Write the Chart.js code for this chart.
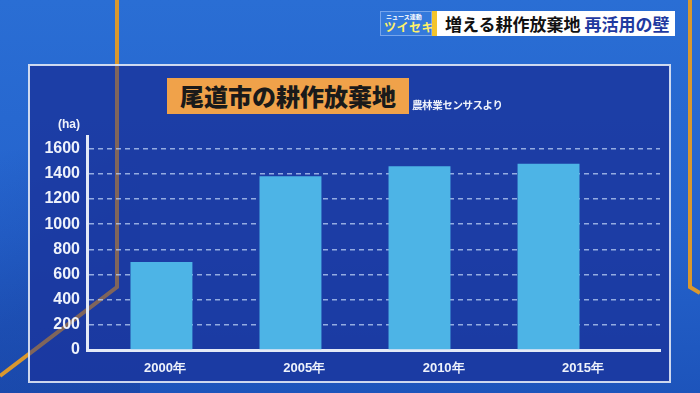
<!DOCTYPE html>
<html lang="ja">
<head>
<meta charset="utf-8">
<script src="https://cdn.jsdelivr.net/npm/chart.js@4"></script>
<style>
  html, body { margin: 0; padding: 0; background: #1f5cc4; }
  #wrap { position: relative; width: 700px; height: 393px; overflow: hidden; }
  #chart { position: absolute; left: 0; top: 0; }
  .jp { font-family: "Noto Sans CJK JP", sans-serif; font-weight: 700; position: absolute; white-space: nowrap; }
  #badge { left: 380px; top: 11px; width: 52px; height: 25px; background: #3479dc; box-sizing: border-box; border: 1px solid rgba(200,220,255,0.45); }
  #badge .s { position: absolute; left: 5px; top: 1px; font-size: 6px; color: #fff; line-height: 7px; }
  #badge .b { position: absolute; left: 3px; top: 8px; font-size: 12px; color: #fff06a; line-height: 14px; letter-spacing: 0.5px; }
  #headline { left: 432px; top: 11px; width: 243px; height: 25px; background: #fff; border-left: 5px solid #f3c42b; box-sizing: border-box;
              font-size: 17px; line-height: 25px; padding-left: 8px; color: #111; }
  #headline span { color: #1f3aa0; margin-left: 4px; }
  #title { left: 167px; top: 78px; width: 242px; height: 36px; background: #f0a24a; color: #1a1a1a; font-size: 24px;
           line-height: 36px; text-align: center; font-weight: 900; }
  #source { left: 412px; top: 97px; font-size: 10.5px; color: #eef2fb; letter-spacing: -0.4px; }
  #unit { left: 58px; top: 117px; font-family: "Liberation Sans", Arial, sans-serif; font-weight: 700; font-size: 12px; color: #eef2fb; position: absolute; }
</style>
</head>
<body>
<div id="wrap">
  <canvas id="chart" width="700" height="393"></canvas>
  <div id="badge" class="jp"><div class="s">ニュース連動</div><div class="b">ツイセキ</div></div>
  <div id="headline" class="jp">増える耕作放棄地<span>再活用の壁</span></div>
  <div id="title" class="jp">尾道市の耕作放棄地</div>
  <div id="source" class="jp">農林業センサスより</div>
  <div id="unit">(ha)</div>
</div>
<script>
// 尾道市の耕作放棄地 (ha)
const years = ['2000年', '2005年', '2010年', '2015年'];
const areas = [700, 1380, 1460, 1480];
const yTicks = [0, 200, 400, 600, 800, 1000, 1200, 1400, 1600];

const labelFont = { family: '"Liberation Sans", Arial, sans-serif', weight: 'bold' };

function orangeLine(ctx) {
    ctx.beginPath();
    ctx.moveTo(117, 0);
    ctx.lineTo(117, 287);
    ctx.lineTo(0, 376);
    ctx.stroke();
}

// Hintergrund, orangefarbene Linien und Tafel
const backdrop = {
    id: 'backdrop',
    beforeDraw(chart) {
        const ctx = chart.ctx;
        ctx.save();
        const g = ctx.createLinearGradient(0, 0, 0, 393);
        g.addColorStop(0, '#2a6ed4');
        g.addColorStop(0.6, '#2462cc');
        g.addColorStop(1, '#1d54bb');
        ctx.fillStyle = g;
        ctx.fillRect(0, 0, 700, 393);
        const side = ctx.createLinearGradient(0, 150, 120, 393);
        side.addColorStop(0, 'rgba(20,50,140,0)');
        side.addColorStop(0.6, 'rgba(20,50,140,0.3)');
        side.addColorStop(1, 'rgba(20,50,140,0.35)');
        ctx.fillStyle = side;
        ctx.fillRect(0, 150, 140, 243);

        ctx.strokeStyle = '#d9982e';
        ctx.lineWidth = 4;
        orangeLine(ctx);
        ctx.beginPath();
        ctx.moveTo(690, 0);
        ctx.lineTo(690, 287);
        ctx.lineTo(700, 293);
        ctx.stroke();

        ctx.fillStyle = 'rgba(27,55,158,0.86)';
        ctx.fillRect(29, 65, 641, 317);
        // Linie schimmert durch die Tafel
        ctx.save();
        ctx.beginPath();
        ctx.rect(29, 65, 641, 317);
        ctx.clip();
        ctx.strokeStyle = 'rgba(190,130,50,0.55)';
        ctx.lineWidth = 4;
        orangeLine(ctx);
        ctx.restore();

        ctx.strokeStyle = 'rgba(225,232,245,0.9)';
        ctx.lineWidth = 2;
        ctx.strokeRect(29, 65, 641, 317);
        ctx.restore();
    }
};

const ctx = document.getElementById('chart').getContext('2d');
new Chart(ctx, {
    type: 'bar',
    data: {
        datasets: [{
            data: areas.map((v, i) => ({ x: i, y: v })),
            backgroundColor: '#4db4e6',
            borderWidth: 0,
            categoryPercentage: 1,
            barPercentage: 0.48
        }]
    },
    options: {
        responsive: false,
        animation: false,
        devicePixelRatio: 1,
        layout: { padding: { top: 136, right: 40, left: 0, bottom: 0 } },
        plugins: { legend: { display: false }, tooltip: { enabled: false } },
        scales: {
            x: {
                type: 'linear',
                display: false,
                offset: false,
                min: -0.577,
                max: 3.864,
                afterBuildTicks: s => { s.ticks = years.map((_, i) => ({ value: i })); }
            },
            xl: {
                type: 'linear',
                axis: 'x',
                position: 'bottom',
                offset: false,
                min: -0.56,
                max: 3.553,
                afterFit: s => { s.height = 43; },
                afterBuildTicks: s => { s.ticks = years.map((_, i) => ({ value: i })); },
                grid: { display: false, drawTicks: false, offset: false },
                border: { display: true, color: '#e4eaf7', width: 3 },
                ticks: {
                    autoSkip: false,
                    maxRotation: 0,
                    padding: 11,
                    color: '#eef2fb',
                    font: { ...labelFont, size: 13 },
                    callback: v => years[v]
                }
            },
            y: {
                min: 0,
                max: 1700,
                afterFit: s => { s.width = 87; },
                afterBuildTicks: s => { s.ticks = yTicks.map(v => ({ value: v })); },
                grid: { color: 'rgba(190,210,245,0.75)', lineWidth: 1.5, drawTicks: false },
                border: { display: true, color: '#e4eaf7', width: 3, dash: [5, 4] },
                ticks: {
                    padding: 7,
                    color: '#eef2fb',
                    font: { ...labelFont, size: 16 },
                    callback: v => String(v)
                }
            }
        }
    },
    plugins: [backdrop]
});
</script>
</body>
</html>
